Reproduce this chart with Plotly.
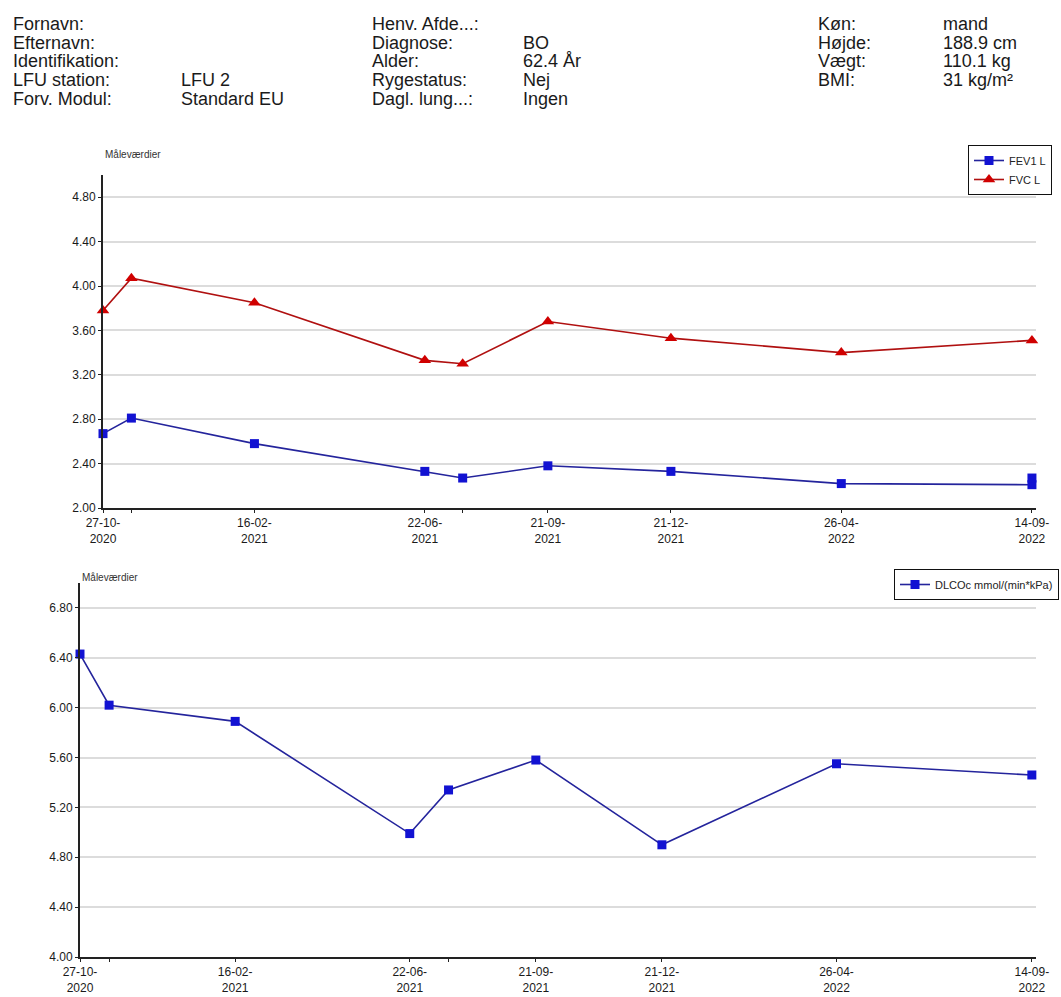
import plotly.graph_objects as go

# visit dates (x) and measured values
dates = ["2020-10-27", "2020-11-17", "2021-02-16", "2021-06-22", "2021-07-20",
         "2021-09-21", "2021-12-21", "2022-04-26", "2022-09-14"]
tick_text = ["27-10-<br>2020", "", "16-02-<br>2021", "22-06-<br>2021", "",
             "21-09-<br>2021", "21-12-<br>2021", "26-04-<br>2022", "14-09-<br>2022"]

fev1_dates = dates + ["2022-09-14"]
fev1 = [2.67, 2.81, 2.58, 2.33, 2.27, 2.38, 2.33, 2.22, 2.21, 2.27]
fvc = [3.78, 4.07, 3.85, 3.33, 3.30, 3.68, 3.53, 3.40, 3.51]
dlco = [6.43, 6.02, 5.89, 4.99, 5.34, 5.58, 4.90, 5.55, 5.46]

top_ticks = [2.0, 2.4, 2.8, 3.2, 3.6, 4.0, 4.4, 4.8]
bottom_ticks = [4.0, 4.4, 4.8, 5.2, 5.6, 6.0, 6.4, 6.8]

# header fields: (label, value) per column
col1 = [("Fornavn:", ""), ("Efternavn:", ""), ("Identifikation:", ""),
        ("LFU station:", "LFU 2"), ("Forv. Modul:", "Standard EU")]
col2 = [("Henv. Afde...:", ""), ("Diagnose:", "BO"), ("Alder:", "62.4 År"),
        ("Rygestatus:", "Nej"), ("Dagl. lung...:", "Ingen")]
col3 = [("Køn:", "mand"), ("Højde:", "188.9 cm"), ("Vægt:", "110.1 kg"),
        ("BMI:", "31 kg/m²")]

W, H = 1061, 997
FONT = "Liberation Sans, Arial, sans-serif"
BLUE = "#1212d2"
RED = "#d00000"


def px_x(v):
    return v / W


def px_y(v):
    return 1 - v / H


fig = go.Figure()

fig.add_trace(go.Scatter(
    x=fev1_dates, y=fev1, name="FEV1 L", mode="lines+markers",
    line=dict(color="#24249c", width=1.6),
    marker=dict(symbol="square", size=9, color=BLUE),
    cliponaxis=False, xaxis="x", yaxis="y", legend="legend"))
fig.add_trace(go.Scatter(
    x=dates, y=fvc, name="FVC L", mode="lines+markers",
    line=dict(color="#b01010", width=1.6),
    marker=dict(symbol="triangle-up", size=11, color=RED),
    cliponaxis=False, xaxis="x", yaxis="y", legend="legend"))
fig.add_trace(go.Scatter(
    x=dates, y=dlco, name="DLCOc mmol/(min*kPa)", mode="lines+markers",
    line=dict(color="#24249c", width=1.6),
    marker=dict(symbol="square", size=9, color=BLUE),
    cliponaxis=False, xaxis="x2", yaxis="y2", legend="legend2"))

x_common = dict(
    type="date", tickmode="array", tickvals=dates, ticktext=tick_text,
    showgrid=False, zeroline=False, showline=True, linecolor="#222", linewidth=2,
    ticks="outside", ticklen=3, tickcolor="#222", automargin=False,
    tickfont=dict(family=FONT, size=12, color="#1a1a1a"),
    range=["2020-10-27", "2022-09-17"], fixedrange=True)
y_common = dict(
    showgrid=True, gridcolor="#dcdcdc", gridwidth=1.5, zeroline=False,
    showline=True, linecolor="#222", linewidth=2, automargin=False,
    ticks="outside", ticklen=3, tickcolor="#222", tickformat=".2f",
    tickfont=dict(family=FONT, size=12, color="#1a1a1a"), fixedrange=True)

fig.update_layout(
    width=W, height=H,
    margin=dict(l=0, r=0, t=0, b=0, pad=0, autoexpand=False),
    paper_bgcolor="white", plot_bgcolor="white",
    font=dict(family=FONT, color="#222"),
    xaxis=dict(x_common, domain=[px_x(103), px_x(1036)], anchor="y"),
    yaxis=dict(y_common, domain=[px_y(508), px_y(175)], range=[2.0, 5.0],
               tickvals=top_ticks, anchor="x"),
    xaxis2=dict(x_common, domain=[px_x(80), px_x(1036)], anchor="y2"),
    yaxis2=dict(y_common, domain=[px_y(957), px_y(583)], range=[4.0, 7.0],
                tickvals=bottom_ticks, anchor="x2"),
    legend=dict(x=px_x(1052), y=px_y(145), xanchor="right", yanchor="top",
                bordercolor="#111", borderwidth=1, bgcolor="white",
                font=dict(family=FONT, size=11, color="#222"),
                itemwidth=30, tracegroupgap=0),
    legend2=dict(x=px_x(1059), y=px_y(569), xanchor="right", yanchor="top",
                 bordercolor="#111", borderwidth=1, bgcolor="white",
                 font=dict(family=FONT, size=11, color="#222"),
                 itemwidth=30),
    showlegend=True,
)

annotations = []
row_y = [24, 42.7, 61.4, 80.1, 98.8]
for cols, lx, vx in [(col1, 12, 180), (col2, 371, 522), (col3, 817, 942)]:
    for i, (label, value) in enumerate(cols):
        for txt, x in [(label, lx), (value, vx)]:
            if not txt:
                continue
            annotations.append(dict(
                text=txt, x=px_x(x), y=px_y(row_y[i]), xref="paper", yref="paper",
                xanchor="left", yanchor="middle", showarrow=False, borderpad=0,
                font=dict(family=FONT, size=18, color="#1a1a1a")))

for x, y in [(103, 155), (80, 577)]:
    annotations.append(dict(
        text="Måleværdier", x=px_x(x), y=px_y(y), xref="paper", yref="paper",
        xanchor="left", yanchor="middle", showarrow=False,
        font=dict(family=FONT, size=10, color="#333")))

fig.update_layout(annotations=annotations)

# drop the default page margin so the 1061x997 figure fills the window exactly
fig.write_html("out.html", config=dict(displayModeBar=False),
               post_script="document.body.style.margin='0';"
                           "document.body.style.overflow='hidden';")
